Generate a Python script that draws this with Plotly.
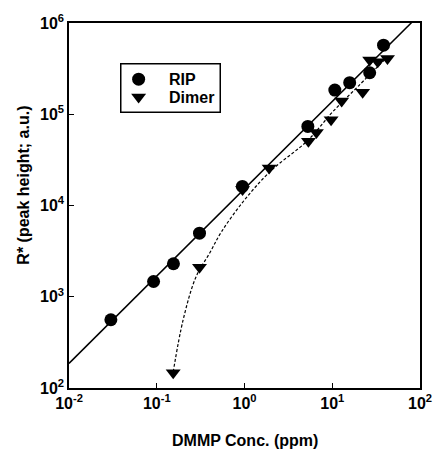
import plotly.graph_objects as go

# DMMP concentration (ppm) and response R* (peak height, a.u.)
rip_conc = [0.030, 0.092, 0.155, 0.307, 0.946, 5.27, 10.7, 15.8, 26.7, 38.4]
rip_resp = [560, 1470, 2300, 4980, 16200, 73500, 184000, 222000, 285000, 571000]

dimer_conc = [0.154, 0.307, 0.95, 1.91, 5.35, 6.6, 9.7, 12.8, 22.2, 26.7, 33.0, 42.6]
dimer_resp = [147, 2100, 15000, 25800, 50500, 63200, 87000, 140000, 174000, 392000, 376000, 408000]

# straight-line fit through the RIP data (log-log)
rip_fit_conc = [0.01, 100]
rip_fit_resp = [186, 1.25e6]

# smooth guide through the dimer data
dimer_fit_conc = [0.154, 0.20, 0.28, 0.40, 0.55, 1.0, 2.0, 5.3, 10, 20, 42]
dimer_fit_resp = [150, 560, 1650, 3000, 5200, 11500, 24000, 52000, 105000, 205000, 420000]

x_tick_vals = [0.01, 0.1, 1, 10, 100]
x_tick_text = ["10<sup>-2</sup>", "10<sup>-1</sup>", "10<sup>0</sup>", "10<sup>1</sup>", "10<sup>2</sup>"]
y_tick_vals = [1e2, 1e3, 1e4, 1e5, 1e6]
y_tick_text = ["10<sup>2</sup>", "10<sup>3</sup>", "10<sup>4</sup>", "10<sup>5</sup>", "10<sup>6</sup>"]

legend_names = ["RIP", "Dimer"]
legend_symbols = ["circle", "triangle-down"]

FONT = "Arial"
W, H = 444, 452
L, R, T, B = 69, 12, 21, 64
pw = W - L - R
ph = H - T - B


def px_x(p):
    """pixel column -> paper fraction"""
    return (p - L) / pw


def px_y(p):
    """pixel row -> paper fraction"""
    return 1 - (p - T) / ph


fig = go.Figure()

fig.add_trace(go.Scatter(
    x=rip_fit_conc, y=rip_fit_resp, mode="lines",
    line=dict(color="black", width=1.5), showlegend=False, hoverinfo="skip"))

fig.add_trace(go.Scatter(
    x=dimer_fit_conc, y=dimer_fit_resp, mode="lines",
    line=dict(color="black", width=1.2, dash="3px,2px", shape="spline", smoothing=1.0),
    showlegend=False, hoverinfo="skip"))

fig.add_trace(go.Scatter(
    x=dimer_conc, y=dimer_resp, mode="markers", name="Dimer", showlegend=False,
    marker=dict(symbol="triangle-down", size=13, color="black")))

fig.add_trace(go.Scatter(
    x=rip_conc, y=rip_resp, mode="markers", name="RIP", showlegend=False,
    marker=dict(symbol="circle", size=13, color="black")))

# key symbols on an overlay axis in paper units
key_rows = [77.5, 95.5]
fig.add_trace(go.Scatter(
    x=[px_x(141)] * 2, y=[px_y(r) for r in key_rows],
    xaxis="x2", yaxis="y2", mode="markers", showlegend=False, hoverinfo="skip",
    marker=dict(symbol=legend_symbols, size=13, color="black")))

# key frame: an empty bordered annotation
annotations = [
    dict(text=" ", xref="paper", yref="paper",
         x=px_x(174), y=px_y(86.5), xanchor="center", yanchor="middle",
         width=98, height=47, borderpad=0, borderwidth=1.5,
         bordercolor="black", bgcolor="rgba(0,0,0,0)", showarrow=False,
         font=dict(family=FONT, size=16, color="black")),
]
annotations += [
    dict(text=f"<b>{name}</b>", xref="paper", yref="paper",
         x=px_x(170), y=px_y(r), xanchor="left", yanchor="middle", showarrow=False,
         font=dict(family=FONT, size=16, color="black"))
    for name, r in zip(legend_names, key_rows)
]
annotations += [
    dict(text="<b>DMMP Conc. (ppm)</b>", xref="paper", yref="paper",
         x=px_x(250.5), y=px_y(441),
         xanchor="center", yanchor="middle", showarrow=False,
         font=dict(family=FONT, size=16, color="black")),
    dict(text="<b>R* (peak height; a.u.)</b>", xref="paper", yref="paper",
         x=px_x(22), y=px_y(184),
         xanchor="center", yanchor="middle", textangle=-90, showarrow=False,
         font=dict(family=FONT, size=16, color="black")),
]

axis_common = dict(
    ticks="inside", ticklen=5, tickwidth=1.2, tickcolor="black",
    showline=True, linecolor="black", linewidth=1.5, mirror=True,
    showgrid=False, zeroline=False,
    tickfont=dict(family=FONT, size=16, color="black"),
)

fig.update_layout(
    width=W, height=H,
    margin=dict(l=L, r=R, t=T, b=B),
    paper_bgcolor="white", plot_bgcolor="white",
    font=dict(family=FONT, size=16, color="black"),
    showlegend=False,
    xaxis=dict(type="log", range=[-2, 2], tickvals=x_tick_vals,
               ticktext=[f"<b>{t}</b>" for t in x_tick_text], **axis_common),
    yaxis=dict(type="log", range=[2, 6], tickvals=y_tick_vals,
               ticktext=[f"<b>{t}</b>" for t in y_tick_text], **axis_common),
    xaxis2=dict(overlaying="x", range=[0, 1], visible=False, fixedrange=True),
    yaxis2=dict(overlaying="y", range=[0, 1], visible=False, fixedrange=True),
    annotations=annotations,
)

fig.write_html("out.html")
